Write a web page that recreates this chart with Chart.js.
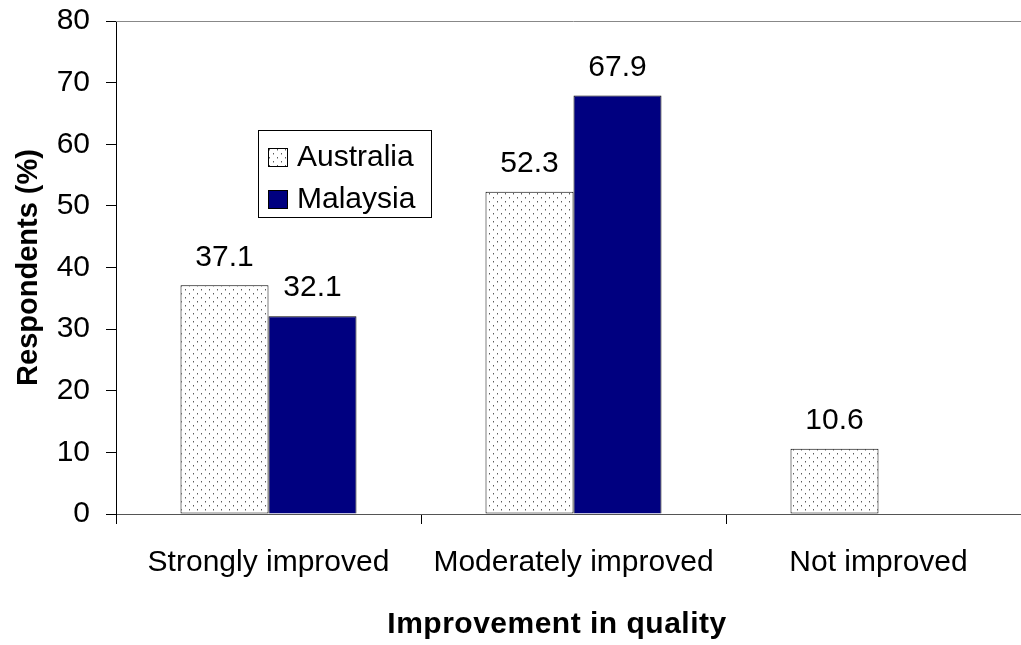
<!DOCTYPE html>
<html>
<head>
<meta charset="utf-8">
<script src="https://cdn.jsdelivr.net/npm/chart.js@4/dist/chart.umd.min.js"></script>
<style>
    html, body { margin: 0; padding: 0; background: #fff; overflow: hidden; }
    #wrap { width: 1040px; height: 645px; }
</style>
</head>
<body>
<div id="wrap"><canvas id="chart"></canvas></div>
<script>
    const categories = ["Strongly improved", "Moderately improved", "Not improved"];
    const australia = [37.1, 52.3, 10.6];
    const malaysia = [32.1, 67.9, 0];
    const yTicks = [0, 10, 20, 30, 40, 50, 60, 70, 80];

    const FONT = "'Liberation Sans', Arial, sans-serif";

    function dotPattern() {
        const c = document.createElement("canvas");
        c.width = 8;
        c.height = 8;
        const g = c.getContext("2d");
        g.fillStyle = "#fff";
        g.fillRect(0, 0, 8, 8);
        g.fillStyle = "#5a5a5a";
        g.fillRect(1, 1, 1, 1);
        g.fillRect(5, 5, 1, 1);
        g.fillStyle = "#b0b0b0";
        g.fillRect(1, 2, 1, 1);
        g.fillRect(5, 6, 1, 1);
        return g.createPattern(c, "repeat");
    }

    const dotted = dotPattern();

    // value labels above the bars
    const barLabels = {
        id: "barLabels",
        afterDatasetsDraw(chart) {
            const ctx = chart.ctx;
            ctx.save();
            ctx.font = "30px " + FONT;
            ctx.fillStyle = "#000";
            ctx.textAlign = "center";
            ctx.textBaseline = "middle";
            chart.data.datasets.forEach((ds, i) => {
                chart.getDatasetMeta(i).data.forEach((bar, j) => {
                    if (!ds.data[j]) return;
                    ctx.fillText(ds.data[j].toFixed(1), bar.x, bar.y - 28);
                });
            });
            ctx.restore();
        }
    };

    // plot frame top line, legend box and x title
    const extras = {
        id: "extras",
        afterDraw(chart) {
            const ctx = chart.ctx;
            const area = chart.chartArea;
            ctx.save();
            ctx.strokeStyle = "#888";
            ctx.lineWidth = 1;
            ctx.beginPath();
            ctx.moveTo(area.left, area.top + 0.5);
            ctx.lineTo(area.right, area.top + 0.5);
            ctx.stroke();

            // legend
            ctx.fillStyle = "#fff";
            ctx.fillRect(258, 130, 173, 87);
            ctx.strokeStyle = "#000";
            ctx.strokeRect(258.5, 130.5, 173, 87);
            ctx.font = "30px " + FONT;
            ctx.textAlign = "left";
            ctx.textBaseline = "middle";
            chart.data.datasets.forEach((ds, i) => {
                const y = 157 + i * 42;
                ctx.fillStyle = ds.backgroundColor;
                ctx.fillRect(268, y - 9, 19, 18);
                ctx.strokeStyle = "#000";
                ctx.strokeRect(268.5, y - 8.5, 19, 18);
                ctx.fillStyle = "#000";
                ctx.fillText(ds.label, 297, y + 1);
            });

            ctx.font = "bold 30px " + FONT;
            ctx.textAlign = "center";
            ctx.letterSpacing = "0.5px";
            ctx.fillText("Improvement in quality", 557, 625);
            ctx.restore();
        }
    };

    new Chart(document.getElementById("chart"), {
        type: "bar",
        data: {
            labels: categories,
            datasets: [
                {
                    label: "Australia",
                    data: australia,
                    backgroundColor: dotted,
                    borderColor: "#000",
                    borderWidth: 1,
                    borderSkipped: false
                },
                {
                    label: "Malaysia",
                    data: malaysia,
                    backgroundColor: "#000080",
                    borderColor: "#000",
                    borderWidth: 1,
                    borderSkipped: "bottom"
                }
            ]
        },
        options: {
            responsive: true,
            maintainAspectRatio: false,
            animation: false,
            events: [],
            categoryPercentage: 0.577,
            barPercentage: 1,
            layout: {
                padding: { top: 21, right: 9, left: 0, bottom: 0 }
            },
            plugins: {
                legend: { display: false },
                tooltip: { enabled: false }
            },
            scales: {
                x: {
                    afterFit: (s) => {
                        s.height = 131;
                        s.paddingLeft = 0;
                        s.paddingRight = 0;
                    },
                    grid: {
                        offset: true,
                        drawOnChartArea: false,
                        color: "#000",
                        tickLength: 10
                    },
                    border: { color: "#555", width: 1 },
                    ticks: {
                        color: "#000",
                        padding: 21,
                        font: { family: FONT, size: 30 }
                    }
                },
                y: {
                    min: 0,
                    max: 80,
                    afterFit: (s) => {
                        s.width = 116;
                        s.paddingTop = 0;
                        s.paddingBottom = 0;
                    },
                    afterBuildTicks: (s) => { s.ticks = yTicks.map((v) => ({ value: v })); },
                    grid: {
                        drawOnChartArea: false,
                        color: "#000",
                        tickLength: 10
                    },
                    border: { color: "#000", width: 1 },
                    ticks: {
                        color: "#000",
                        padding: 16,
                        font: { family: FONT, size: 30 }
                    },
                    title: {
                        display: true,
                        text: "Respondents (%)",
                        color: "#000",
                        padding: { top: 12, bottom: 0 },
                        font: { family: FONT, size: 29, weight: "bold" }
                    }
                }
            }
        },
        plugins: [barLabels, extras]
    });
</script>
</body>
</html>
